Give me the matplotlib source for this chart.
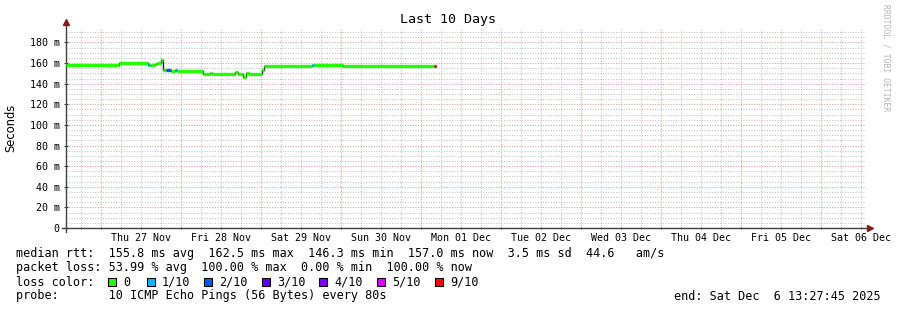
import matplotlib
matplotlib.use("Agg")
import matplotlib.pyplot as plt
from matplotlib.patches import Rectangle
from matplotlib.ticker import MultipleLocator

W, H = 897, 310
MONO = "DejaVu Sans Mono"

# median rtt as a step series; x = days since Thu 27 Nov 00:00
seg_start = [-0.439, 0.225, 0.5875, 0.6125, 0.675, 0.70, 0.75, 0.775, 0.8125,
             0.875, 0.925, 0.95, 1.275, 1.36, 1.39, 1.675, 1.715, 1.775,
             1.8125, 1.85, 2.0125, 2.0375, 2.6375, 2.6625, 3.025, 4.1625]
rtt_ms = [158.3, 160.2, 158.5, 158.5, 159.5, 160.5, 162.5, 153.6, 153.0,
          152.4, 153.0, 152.4, 149.4, 150.0, 149.4, 151.0, 149.4, 146.5,
          150.8, 149.4, 153.0, 157.5, 157.8, 158.0, 157.2, 157.2]
loss = [0, 0, 1, 0, 0, 0, 0, 0, 2, 0, 1, 0, 0, 0, 0, 0, 0, 0,
        0, 0, 0, 0, 1, 0, 0, 9]
data_end = 4.19

x_min, x_max = -0.439, 9.561
day_labels = ["Thu 27 Nov", "Fri 28 Nov", "Sat 29 Nov", "Sun 30 Nov", "Mon 01 Dec",
              "Tue 02 Dec", "Wed 03 Dec", "Thu 04 Dec", "Fri 05 Dec", "Sat 06 Dec"]
y_ticks = [0, 20, 40, 60, 80, 100, 120, 140, 160, 180]

loss_colors = {0: "#26ff00", 1: "#00b8ff", 2: "#0059ff", 3: "#5e00ff",
               4: "#7e00ff", 5: "#dd00ff", 9: "#ff0000"}
legend_loss = [0, 1, 2, 3, 4, 5, 9]
legend_names = ["0", "1/10", "2/10", "3/10", "4/10", "5/10", "9/10"]

line_rtt = "median rtt:  155.8 ms avg  162.5 ms max  146.3 ms min  157.0 ms now  3.5 ms sd  44.6   am/s"
line_loss = "packet loss: 53.99 % avg  100.00 % max  0.00 % min  100.00 % now"
line_probe = "probe:       10 ICMP Echo Pings (56 Bytes) every 80s"
end_text = "end: Sat Dec  6 13:27:45 2025"

fig = plt.figure(figsize=(W / 100, H / 100), dpi=100, facecolor="white")
ax = fig.add_axes([66 / W, 1 - 228 / H, 800 / W, 200 / H])
ax.set_xlim(x_min, x_max)
ax.set_ylim(0, 194)

# grid: grey minor, pink major (dotted like rrdtool)
ax.xaxis.set_major_locator(MultipleLocator(1))
ax.xaxis.set_minor_locator(MultipleLocator(0.25))
ax.yaxis.set_minor_locator(MultipleLocator(5))
ax.set_yticks(y_ticks)
ax.set_yticklabels([f"{v} m" if v else "0" for v in y_ticks], family=MONO, fontsize=7.2)
ax.grid(which="minor", color="#c2c2c2", ls=(0, (1, 1.5)), lw=0.75)
ax.grid(which="major", color="#e49a9a", ls=(0, (1, 1.5)), lw=0.75)
ax.set_axisbelow(True)
ax.tick_params(axis="x", which="both", labelbottom=False, length=2, direction="inout",
               color="#404040")
ax.tick_params(axis="y", which="major", length=3, direction="inout", pad=3, color="#404040")
ax.tick_params(axis="y", which="minor", length=0)
for s in ax.spines.values():
    s.set_visible(False)

for x, lab in zip(range(len(day_labels)), day_labels):
    ax.text(x + 0.5, -0.05, lab, transform=ax.get_xaxis_transform(), ha="center",
            va="center", family=MONO, fontsize=7.2)

# axes with arrows
ax.plot([0, 0], [-0.02, 1.03], transform=ax.transAxes, color="#404040", lw=1, clip_on=False)
ax.plot([-0.005, 1.005], [0, 0], transform=ax.transAxes, color="#404040", lw=1, clip_on=False)
ax.plot(0, 1.03, marker="^", ms=4, color="#8b1a1a", transform=ax.transAxes, clip_on=False)
ax.plot(1.005, 0, marker=">", ms=4, color="#8b1a1a", transform=ax.transAxes, clip_on=False)

# median line coloured by loss
ends = seg_start[1:] + [data_end]
ax.step(seg_start + [data_end], rtt_ms + [rtt_ms[-1]], where="post", color="#202020",
        lw=1.0, zorder=3)
for x0, x1, v, l in zip(seg_start, ends, rtt_ms, loss):
    ax.plot([x0, x1], [v, v], color=loss_colors[l], lw=2.4, solid_capstyle="butt", zorder=4)

ax.set_ylabel("Seconds", fontsize=8.3)
ax.yaxis.set_label_coords(-49 / 800, 0.5)

fig.text(448 / W, 1 - 19 / H, "Last 10 Days", ha="center", va="center", family=MONO,
         fontsize=9.6)
fig.text(886 / W, 1 - 4 / H, "RRDTOOL / TOBI OETIKER", rotation=270, ha="center", va="top",
         family=MONO, fontsize=5.8, color="#b4b4b4")

# legend rows
def fy(y):
    return 1 - y / H

fig.text(16 / W, fy(254), line_rtt, va="center", family=MONO, fontsize=8.45)
fig.text(16 / W, fy(268), line_loss, va="center", family=MONO, fontsize=8.45)
fig.text(16 / W, fy(282), "loss color:", va="center", family=MONO, fontsize=8.45)
box_x = [108, 147, 204, 262, 319, 377, 435]
for bx, l, name in zip(box_x, legend_loss, legend_names):
    fig.patches.append(Rectangle((bx / W, fy(286)), 8 / W, 8 / H, transform=fig.transFigure,
                                 facecolor=loss_colors[l], edgecolor="black", lw=0.8))
    fig.text((bx + 15) / W, fy(282), name, va="center", family=MONO, fontsize=8.45)
fig.text(16 / W, fy(296), line_probe, va="center", family=MONO, fontsize=8.45)
fig.text(881 / W, fy(296), end_text, va="center", ha="right", family=MONO, fontsize=8.45)

fig.savefig("out.png", dpi=100, facecolor="white")
